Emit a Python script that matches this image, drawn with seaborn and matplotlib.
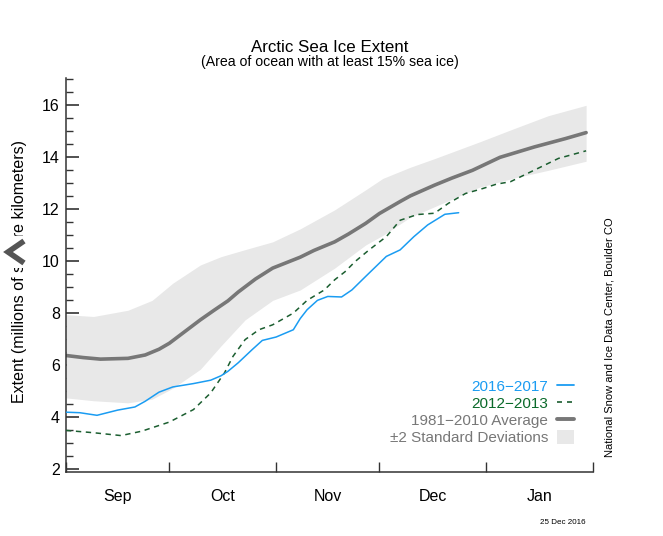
import matplotlib
matplotlib.use('Agg')
import matplotlib.pyplot as plt
import seaborn as sns
from matplotlib.lines import Line2D
from matplotlib.patches import Patch, Rectangle
from matplotlib.ticker import MultipleLocator

# ---- data (days since 1 Sep, extent in millions of km^2) ----
avg_days = [0, 5, 10, 18, 23, 27, 30, 32, 35, 39, 43, 47, 50, 55, 60, 68, 72, 78, 82,
            87, 91, 97, 100, 107, 112, 118, 126, 136, 145, 151]
avg_ext = [6.38, 6.30, 6.24, 6.27, 6.40, 6.62, 6.85, 7.05, 7.35, 7.75, 8.12, 8.48,
           8.82, 9.32, 9.74, 10.16, 10.42, 10.75, 11.05, 11.46, 11.84, 12.30, 12.52,
           12.93, 13.20, 13.50, 14.00, 14.40, 14.72, 14.95]

band_days = [0, 8, 18, 25, 31, 39, 45, 52, 60, 68, 78, 87, 92, 100, 107, 120, 130, 140, 151]
band_hi = [7.95, 7.88, 8.12, 8.50, 9.16, 9.86, 10.18, 10.45, 10.75, 11.25, 11.98, 12.75,
           13.19, 13.62, 13.95, 14.59, 15.10, 15.60, 16.00]
band_lo = [4.75, 4.64, 4.56, 4.70, 5.12, 5.85, 6.75, 7.75, 8.50, 8.90, 9.74, 10.63,
           11.00, 11.70, 12.10, 12.85, 13.20, 13.50, 13.85]

y2016_days = [0, 4, 9, 15, 20, 23, 27, 31, 37, 42, 45, 47, 50, 54, 57, 61, 66, 68, 70,
              73, 76, 80, 83, 87, 93, 97, 101, 105, 110, 114]
y2016_ext = [4.20, 4.18, 4.08, 4.28, 4.40, 4.62, 4.97, 5.17, 5.30, 5.43, 5.60, 5.77,
             6.10, 6.60, 6.96, 7.09, 7.37, 7.80, 8.14, 8.50, 8.65, 8.63, 8.90, 9.42,
             10.19, 10.44, 10.95, 11.40, 11.81, 11.87]

y2012_days = [0, 8, 16, 22, 30, 37, 42, 46, 48.5, 52, 56, 60, 66, 70, 75, 78, 81, 84,
              88, 93, 97, 102, 107, 111, 116, 121, 125, 129, 136, 143, 151]
y2012_ext = [3.50, 3.41, 3.30, 3.47, 3.82, 4.30, 4.94, 5.71, 6.35, 6.99, 7.37, 7.56,
             8.01, 8.50, 8.90, 9.29, 9.60, 10.00, 10.44, 10.95, 11.58, 11.80, 11.85,
             12.23, 12.61, 12.80, 12.97, 13.06, 13.51, 13.96, 14.25]

month_starts = [0, 30, 61, 91, 122, 153]
month_mids = [15, 45.5, 76, 106.5, 137.5]
month_names = ['Sep', 'Oct', 'Nov', 'Dec', 'Jan']

legend_labels = ['2016\u22122017', '2012\u22122013', '1981\u22122010 Average',
                 '\u00b12 Standard Deviations']

BLUE = '#1a9cf2'
GREEN = '#1b5e30'
GREEN_TXT = '#0a6a2a'
GRAY = '#777777'
BAND = '#e8e8e8'

sns.set_theme(style='ticks')
plt.rcParams['font.family'] = ['Liberation Sans', 'DejaVu Sans']

W, H = 663, 536
fig = plt.figure(figsize=(W / 100, H / 100), dpi=100)
ax = fig.add_axes([66 / W, 1 - 472 / H, 527 / W, 394 / H])

ax.fill_between(band_days, band_lo, band_hi, color=BAND, lw=0, zorder=1)
sns.lineplot(x=avg_days, y=avg_ext, ax=ax, color=GRAY, linewidth=2.6, zorder=2)
sns.lineplot(x=y2012_days, y=y2012_ext, ax=ax, color=GREEN, linewidth=1.1,
             linestyle=(0, (3.5, 3)), zorder=3)
sns.lineplot(x=y2016_days, y=y2016_ext, ax=ax, color=BLUE, linewidth=1.1, zorder=4)

ax.set_xlim(0, 153)
ax.set_ylim(1.9, 17.05)

ax.set_xticks(month_starts)
ax.set_xticklabels([])
ax.set_xticks(month_mids, minor=True)
ax.set_xticklabels(month_names, minor=True)
ax.tick_params(axis='x', which='major', direction='in', length=7, width=1, color='#333333')
ax.tick_params(axis='x', which='minor', length=0, pad=12, labelsize=11.5, labelcolor='black')

ax.set_yticks(range(2, 17, 2))
ax.yaxis.set_minor_locator(MultipleLocator(0.5))
ax.tick_params(axis='y', which='major', direction='in', length=9, width=1.2,
               color='#333333', pad=4.5, labelsize=11.5, labelcolor='black')
ax.tick_params(axis='y', which='minor', direction='in', length=5, width=1, color='#333333')

sns.despine(ax=ax)
for s in ['left', 'bottom']:
    ax.spines[s].set_color('#333333')
    ax.spines[s].set_linewidth(1.1)

ax.set_xlabel('')
ax.set_ylabel('Extent (millions of square kilometers)', fontsize=11.5, color='black')
ax.yaxis.set_label_coords(-0.074, 0.51)

handles = [Line2D([], [], color=BLUE, lw=1.3),
           Line2D([], [], color=GREEN, lw=1.2, ls=(0, (3, 3))),
           Line2D([], [], color=GRAY, lw=2.8),
           Patch(facecolor=BAND, edgecolor='none')]
leg = ax.legend(handles, legend_labels, loc='lower right',
                bbox_to_anchor=(574 / W, 1 - 445 / H), bbox_transform=fig.transFigure,
                frameon=False, markerfirst=False, fontsize=11, handlelength=1.1,
                handleheight=1.0, handletextpad=0.6, labelspacing=0.12,
                borderpad=0, borderaxespad=0)
for t, c in zip(leg.get_texts(), [BLUE, GREEN_TXT, GRAY, GRAY]):
    t.set_color(c)

fig.text(329.5 / W, 1 - 47 / H, 'Arctic Sea Ice Extent', ha='center', va='center',
         fontsize=12.2, color='black')
fig.text(329.5 / W, 1 - 62 / H, '(Area of ocean with at least 15% sea ice)',
         ha='center', va='center', fontsize=10.2, color='black')
fig.text(610 / W, 1 - 337 / H, 'National Snow and Ice Data Center, Boulder CO',
         rotation=90, ha='center', va='center', fontsize=8, color='black')
fig.text(563 / W, 1 - 522 / H, '25 Dec 2016', ha='center', va='center',
         fontsize=5.8, color='black')

# grey chevron overlay sitting over the y label
fig.add_artist(Rectangle((3 / W, 1 - 268 / H), 28 / W, 32 / H, facecolor='white',
                         edgecolor='none', transform=fig.transFigure, zorder=5))
fig.add_artist(Line2D([24 / W, 8 / W, 24 / W], [1 - 241 / H, 1 - 252 / H, 1 - 263 / H],
                      color='#555555', lw=4, solid_capstyle='butt',
                      solid_joinstyle='miter', zorder=6))

fig.savefig('out.png', dpi=100)
